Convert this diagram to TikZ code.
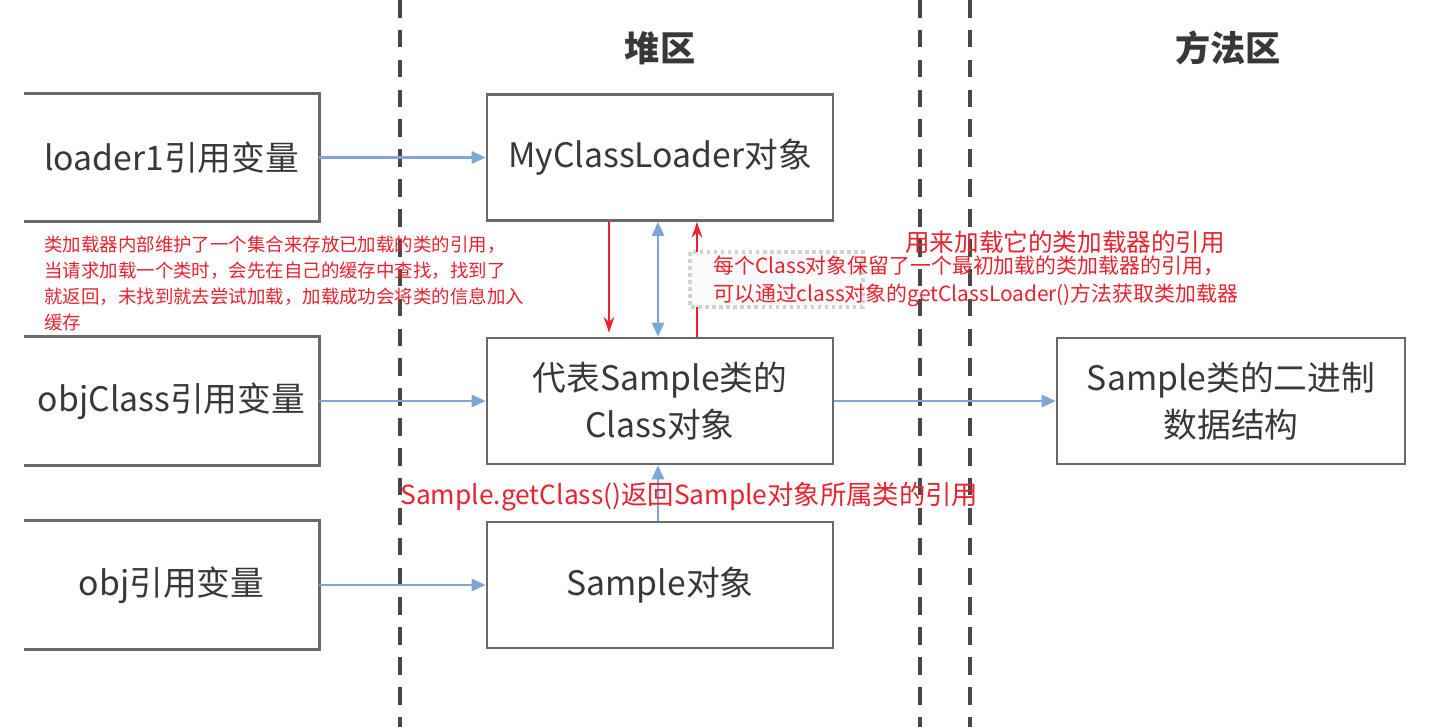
\documentclass[tikz,border=0pt]{standalone}
\usepackage{fontspec}
\setmainfont{Noto Sans CJK SC}
\usetikzlibrary{arrows.meta,positioning}
\definecolor{boxgray}{HTML}{6A6A6A}
\definecolor{txtgray}{HTML}{383838}
\definecolor{refblue}{HTML}{7FA7D6}
\definecolor{notered}{HTML}{E8232F}
\definecolor{lanegray}{HTML}{484848}
\begin{document}
\begin{tikzpicture}[x=0.02cm, y=-0.02cm,
    >={Triangle[length=8pt,width=7pt]},
    box/.style={minimum width=6.92cm, minimum height=2.52cm, draw=boxgray, line width=1.5pt,
        text=txtgray, font=\fontsize{19.2}{26.5}\selectfont, align=center},
    refbox/.style={box, draw=none, minimum width=5.86cm},
    link/.style={refblue, line width=1.3pt, ->},
    redarrow/.style={notered, line width=1.3pt, -{Stealth[length=9pt,width=6pt]}},
    lane/.style={lanegray, line width=2pt, dash pattern=on 10pt off 7pt},
    title/.style={text=txtgray, font=\fontsize{20}{24}\selectfont\bfseries},
    note/.style={notered, font=\fontsize{10.5}{14.8}\selectfont, align=left, inner sep=0pt},
    bignote/.style={notered, font=\fontsize{15}{18}\selectfont, inner sep=0pt}]
    % Page
    \useasboundingbox (0,0) rectangle (1432,727);
    % Lanes
    \draw [lane] (400,0) -- (400,727);
    \draw [lane] (920,0) -- (920,727);
    \draw [lane] (970,0) -- (970,727);
    \node [title] (heapTitle) at (660,48) {堆区};
    \node [title] (methodTitle) at (1228,48) {方法区};
    % Reference variables (open on the left)
    \node [refbox] (loaderRef) at (171.5,157.5) {loader1引用变量};
    \node [refbox] (objClassRef) at (171.5,401) {objClass引用变量};
    \node [refbox] (objRef) at (171.5,585) {obj引用变量};
    \foreach \r in {loaderRef,objClassRef,objRef}
        \draw [boxgray, line width=1.5pt] (\r.north west) -- (\r.north east) -- (\r.south east) -- (\r.south west);
    % Heap objects
    \node [box] (loaderObj) at (660,157.5) {MyClassLoader对象};
    \node [box] (classObj) at (660,401) {代表Sample类的\\Class对象};
    \node [box] (sampleObj) at (660,585) {Sample对象};
    % Method area
    \node [box, minimum width=6.96cm] (binData) at (1231,401) {Sample类的二进制\\数据结构};
    % Links
    \draw [link] (loaderRef) -- (loaderObj);
    \draw [link] (objClassRef) -- (classObj);
    \draw [link] (objRef) -- (sampleObj);
    \draw [link] (classObj) -- (binData);
    \draw [link, <->] ([xshift=-0.04cm]loaderObj.south) -- ([xshift=-0.04cm]classObj.north);
    \draw [link] ([xshift=-0.04cm]sampleObj.north) -- ([xshift=-0.04cm]classObj.south);
    % Red annotations
    \draw [redarrow] ([xshift=-1.02cm]loaderObj.south) -- ([xshift=-1.02cm,yshift=0.08cm]classObj.north);
    \draw [redarrow] ([xshift=0.74cm]classObj.north) -- ([xshift=0.74cm]loaderObj.south);
    \draw [gray!35, line width=2pt, dotted, fill=gray!4] (690,252) rectangle (863,307);
    \node [note, anchor=north west] (cacheNote) at (44,236)
        {类加载器内部维护了一个集合来存放已加载的类的引用，\\
         当请求加载一个类时，会先在自己的缓存中查找，找到了\\
         就返回，未找到就去尝试加载，加载成功会将类的信息加入\\
         缓存};
    \node [bignote, font=\fontsize{14}{18}\selectfont, anchor=west] (loaderNote) at (905,242) {用来加载它的类加载器的引用};
    \node [note, font=\fontsize{11.9}{16.4}\selectfont, anchor=north west] (classNote) at (713,255)
        {每个Class对象保留了一个最初加载的类加载器的引用，\\
         可以通过class对象的getClassLoader()方法获取类加载器};
    \node [bignote, anchor=west] (getClassNote) at (400,497) {Sample.getClass()返回Sample对象所属类的引用};
\end{tikzpicture}
\end{document}
